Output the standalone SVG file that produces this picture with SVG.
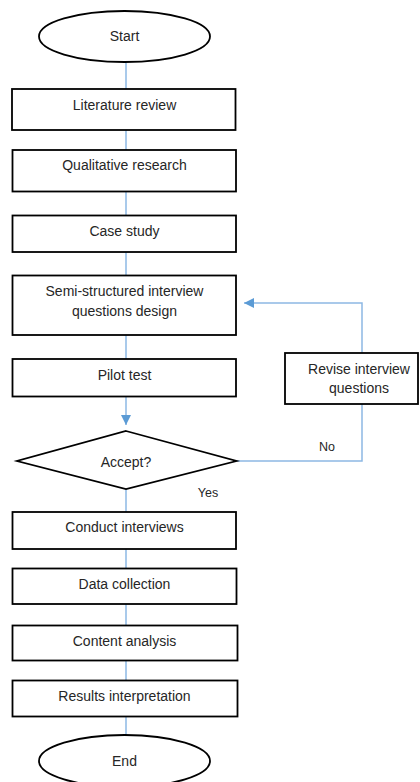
<svg xmlns="http://www.w3.org/2000/svg" width="420" height="782" viewBox="0 0 420 782">
<defs>
<style>
.shape{fill:#ffffff;stroke:#000000;stroke-width:1.8}
.t{font-family:"Liberation Sans",Arial,sans-serif;font-size:14px;fill:#262626;text-anchor:middle}
.lbl{font-family:"Liberation Sans",Arial,sans-serif;font-size:12.5px;fill:#262626;text-anchor:middle}
.c{fill:none;stroke:#8DB8E4;stroke-width:1.5}
</style>
<marker id="ah" viewBox="0 0 10 10" refX="10" refY="5" markerWidth="10" markerHeight="10" markerUnits="userSpaceOnUse" orient="auto">
<path d="M0,0 L10,5 L0,10 Z" fill="#5B9BD5"/>
</marker>
</defs>
<rect width="420" height="782" fill="#ffffff"/>
<g id="connectors">
<line class="c" x1="126" y1="62" x2="126" y2="89"/>
<line class="c" x1="126" y1="130" x2="126" y2="150"/>
<line class="c" x1="126" y1="192" x2="126" y2="215"/>
<line class="c" x1="126" y1="252" x2="126" y2="275"/>
<line class="c" x1="126" y1="335" x2="126" y2="359"/>
<line class="c" x1="126" y1="397" x2="126" y2="425" marker-end="url(#ah)"/>
<line class="c" x1="126" y1="489" x2="126" y2="512"/>
<line class="c" x1="126" y1="549" x2="126" y2="568"/>
<line class="c" x1="126" y1="604" x2="126" y2="625"/>
<line class="c" x1="126" y1="661" x2="126" y2="680"/>
<line class="c" x1="126" y1="717" x2="126" y2="735"/>
<polyline class="c" points="237,461 362,461 362,404"/>
<polyline class="c" points="362,353 362,303 244,303" marker-end="url(#ah)"/>
<text class="lbl" x="327" y="451">No</text>
<text class="lbl" x="208" y="497">Yes</text>
</g>
<g id="start">
<ellipse class="shape" cx="124.5" cy="36.5" rx="85.5" ry="25.5"/>
<text class="t" x="124.5" y="41">Start</text>
</g>
<g id="literature-review">
<rect class="shape" x="12" y="89" width="223.5" height="41"/>
<text class="t" x="124.5" y="110">Literature review</text>
</g>
<g id="qualitative-research">
<rect class="shape" x="12.5" y="150" width="223.5" height="41.5"/>
<text class="t" x="124.5" y="170">Qualitative research</text>
</g>
<g id="case-study">
<rect class="shape" x="12.5" y="215.5" width="223.5" height="36.5"/>
<text class="t" x="124.5" y="236">Case study</text>
</g>
<g id="semi-structured">
<rect class="shape" x="12.5" y="275.5" width="223.5" height="59.5"/>
<text class="t" x="124.5" y="296">Semi-structured interview</text>
<text class="t" x="124.5" y="316">questions design</text>
</g>
<g id="pilot-test">
<rect class="shape" x="12.5" y="359" width="223.5" height="37.5"/>
<text class="t" x="124.5" y="380">Pilot test</text>
</g>
<g id="revise">
<rect class="shape" x="285" y="353" width="133" height="51"/>
<text class="t" x="359" y="374">Revise interview</text>
<text class="t" x="359" y="393">questions</text>
</g>
<g id="accept">
<polygon class="shape" points="126,431 236.5,461 126,489 17,461"/>
<text class="t" x="126" y="467">Accept?</text>
</g>
<g id="conduct-interviews">
<rect class="shape" x="12.5" y="512" width="223.5" height="37"/>
<text class="t" x="124.5" y="532">Conduct interviews</text>
</g>
<g id="data-collection">
<rect class="shape" x="12.5" y="568.5" width="224" height="35.5"/>
<text class="t" x="124.5" y="589">Data collection</text>
</g>
<g id="content-analysis">
<rect class="shape" x="12.5" y="625.5" width="225" height="35"/>
<text class="t" x="124.5" y="646">Content analysis</text>
</g>
<g id="results-interpretation">
<rect class="shape" x="12.5" y="680.5" width="225" height="36"/>
<text class="t" x="124.5" y="701">Results interpretation</text>
</g>
<g id="end">
<ellipse class="shape" cx="124.5" cy="761" rx="85.5" ry="26"/>
<text class="t" x="124.5" y="766">End</text>
</g>
</svg>
